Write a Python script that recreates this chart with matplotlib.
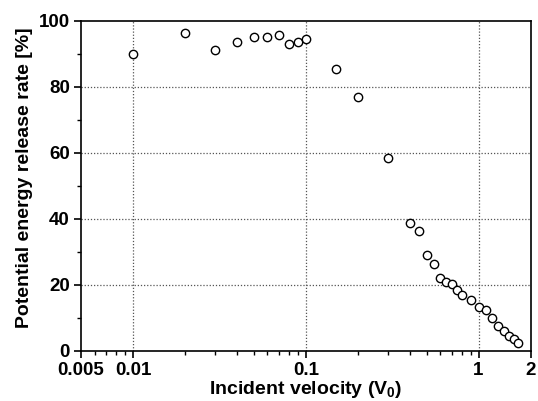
import numpy as np
import matplotlib
matplotlib.use("Agg")
import matplotlib.pyplot as plt
from matplotlib.ticker import FixedLocator, LogLocator, MultipleLocator, FixedFormatter, NullFormatter

plt.rcParams['font.family'] = ['Liberation Sans', 'DejaVu Sans']
plt.rcParams['font.weight'] = 'bold'
plt.rcParams['mathtext.fontset'] = 'custom'
plt.rcParams['mathtext.rm'] = 'Liberation Sans:bold'
plt.rcParams['mathtext.it'] = 'Liberation Sans:bold'
plt.rcParams['mathtext.bf'] = 'Liberation Sans:bold'

# incident velocity (V0) and potential energy release rate (%)
velocity = [0.01, 0.02, 0.03, 0.04, 0.05, 0.06, 0.07, 0.08, 0.09, 0.1,
            0.15, 0.2, 0.3, 0.4, 0.45, 0.5, 0.55, 0.6, 0.65, 0.7,
            0.75, 0.8, 0.9, 1.0, 1.1, 1.2, 1.3, 1.4, 1.5, 1.6, 1.7]
release = [89.8, 96.4, 91.1, 93.5, 95.1, 95.0, 95.6, 93.1, 93.6, 94.5,
           85.4, 76.9, 58.4, 38.9, 36.2, 29.1, 26.3, 22.2, 21.0, 20.3,
           18.4, 16.9, 15.5, 13.3, 12.3, 10.1, 7.5, 6.0, 4.4, 3.5, 2.4]

x_ticks = [0.005, 0.01, 0.1, 1, 2]
x_labels = ["0.005", "0.01", "0.1", "1", "2"]

fig = plt.figure(figsize=(5.38, 4.01), dpi=100, facecolor='white')
ax = fig.add_axes([0.1506, 0.1247, 0.8355, 0.8236])

ax.plot(velocity, release, ls='none', marker='o', ms=6, mfc='white',
        mec='black', mew=1.0, zorder=3)

ax.set_xscale('log')
ax.set_xlim(0.005, 2)
ax.set_ylim(0, 100)

ax.xaxis.set_major_locator(FixedLocator(x_ticks))
ax.xaxis.set_major_formatter(FixedFormatter(x_labels))
ax.xaxis.set_minor_locator(LogLocator(base=10, subs=np.arange(2, 10)))
ax.xaxis.set_minor_formatter(NullFormatter())
ax.yaxis.set_major_locator(MultipleLocator(20))
ax.yaxis.set_minor_locator(MultipleLocator(10))

ax.tick_params(which='major', direction='out', length=5, width=1.2,
               labelsize=13.5, pad=3)
ax.tick_params(which='minor', direction='out', length=3, width=1.0)
ax.tick_params(top=False, right=False, which='both')

for sp in ax.spines.values():
    sp.set_linewidth(1.2)

# dotted grid at decades and every 20 %
for v in [0.01, 0.1, 1]:
    ax.axvline(v, color='#555555', ls=(0, (1, 1.5)), lw=0.9, zorder=1)
for v in [20, 40, 60, 80]:
    ax.axhline(v, color='#555555', ls=(0, (1, 1.5)), lw=0.9, zorder=1)

fig.text(305.5 / 538, 1 - 394 / 401, r"Incident velocity (V$_{0}$)",
         fontsize=14, fontweight='bold', ha='center', va='baseline')
fig.text(25 / 538, 1 - 178 / 401, "Potential energy release rate [%]",
         fontsize=14, fontweight='bold', ha='center', va='center',
         rotation=90)

fig.savefig("out.png", dpi=100)
